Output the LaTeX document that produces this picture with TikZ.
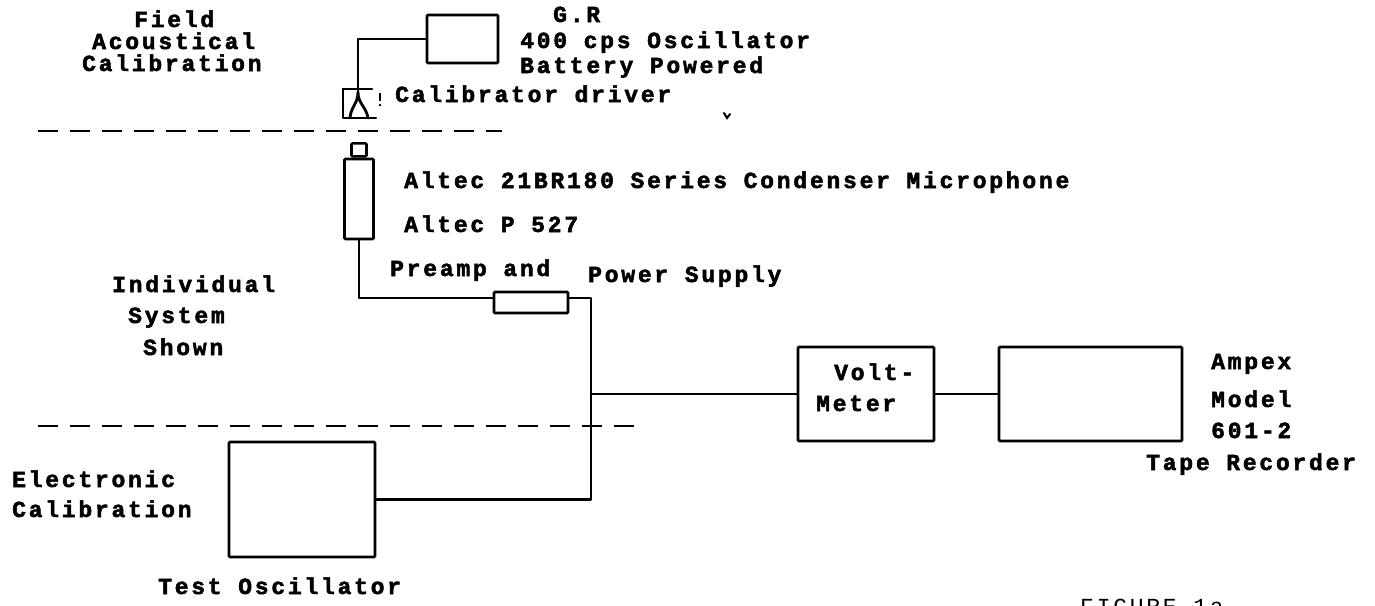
\documentclass[tikz,border=0pt]{standalone}
\usepackage{fontspec}
\newfontfamily\twb[LetterSpace=12,UprightFont={* Bold},FakeBold=2.2]{Liberation Mono}
\newfontfamily\tw[LetterSpace=12]{Liberation Mono}
\begin{document}
\begin{tikzpicture}[x=1pt,y=-1pt,
  wire/.style={line width=2.4pt,line cap=round,line join=round},
  box/.style={draw,line width=2.6pt,inner sep=0pt,rounded corners=1pt},
  sepline/.style={line width=2.8pt,dash pattern=on 20pt off 12pt},
  lbl/.style={anchor=base west,inner sep=0pt,font=\twb\fontsize{23}{26}\selectfont},
  thin lbl/.style={anchor=base west,inner sep=0pt,font=\tw\fontsize{23}{26}\selectfont}]
\useasboundingbox[fill=white] (0,0) rectangle (1375,605);

% left region labels
\node[lbl] (t1) at (134,27) {Field};
\node[lbl] (t2) at (92,49) {Acoustical};
\node[lbl] (t3) at (82,71) {Calibration};
\node[lbl] (t4) at (112,292) {Individual};
\node[lbl] (t5) at (128,323) {System};
\node[lbl] (t6) at (143,355) {Shown};
\node[lbl] (t7) at (12,487) {Electronic};
\node[lbl] (t8) at (12,517) {Calibration};

% separators
\draw[sepline] (38,131) -- (502,131);
\draw[sepline] (38,426) -- (636,426);

% G.R oscillator
\node[box,minimum width=71pt,minimum height=48pt] (gr) at (462.5,39) {};
\node[lbl] (grt1) at (553,22) {G.R};
\node[lbl] (grt2) at (520,48) {400 cps Oscillator};
\node[lbl] (grt3) at (520,73) {Battery Powered};
\node[lbl] (calt) at (395,102) {Calibrator driver};
\draw[line width=2pt,line cap=round] (724,113) -- (727,118) -- (730,114);

% calibrator driver symbol
\coordinate (cal) at (358,92);
\draw[wire] (gr.west) -| (cal);
\draw[wire] (343,89) -- (372,89);
\draw[wire] (343,89) -- (343,118) -- (376,118);
\draw[wire,line width=2.8pt] (350,118) .. controls (351,106) and (358,104) .. (358,92)
            .. controls (358,104) and (366,106) .. (368,118);
\draw[line width=2.6pt] (380,93) -- (380,101);
\fill (380,105) circle (1.4pt);

% microphone
\node[box,minimum width=29pt,minimum height=80pt] (mic) at (359,199) {};
\node[box,minimum width=15pt,minimum height=13pt,anchor=south] (cap) at (mic.north) {};
\node[lbl] (mict1) at (404,188) {Altec 21BR180 Series Condenser Microphone};
\node[lbl] (mict2) at (404,232) {Altec P 527};

% preamp
\node[box,minimum width=74pt,minimum height=21pt] (pre) at (531,302.5) {};
\node[lbl] (pret1) at (390,276) {Preamp and};
\node[lbl] (pret2) at (588,282) {Power Supply};
\draw[wire] (mic.south) |- ([yshift=4.5pt]pre.west);

% voltmeter and recorder
\node[box,minimum width=136pt,minimum height=94pt] (vm) at (866,394) {};
\node[lbl] (vmt1) at (834,380) {Volt-};
\node[lbl] (vmt2) at (816,411) {Meter};
\node[box,minimum width=183pt,minimum height=94pt] (amp) at (1090.5,394) {};
\node[lbl] (ampt1) at (1211,369) {Ampex};
\node[lbl] (ampt2) at (1211,407) {Model};
\node[lbl] (ampt3) at (1211,438) {601-2};
\node[lbl] (ampt4) at (1146,470) {Tape Recorder};

% test oscillator
\node[box,minimum width=146pt,minimum height=115pt] (osc) at (302,499.5) {};
\node[lbl] (osct) at (158,594) {Test Oscillator};

% wiring
\coordinate (j) at (591,394);
\draw[wire] ([yshift=4.5pt]pre.east) -| (j) |- (osc.east);
\draw[wire] (j) -- (vm.west);
\draw[wire] (vm.east) -- (amp.west);

% figure caption (cut by the page edge)
\node[thin lbl] (fig) at (1080,614) {FIGURE 1a};
\end{tikzpicture}
\end{document}
